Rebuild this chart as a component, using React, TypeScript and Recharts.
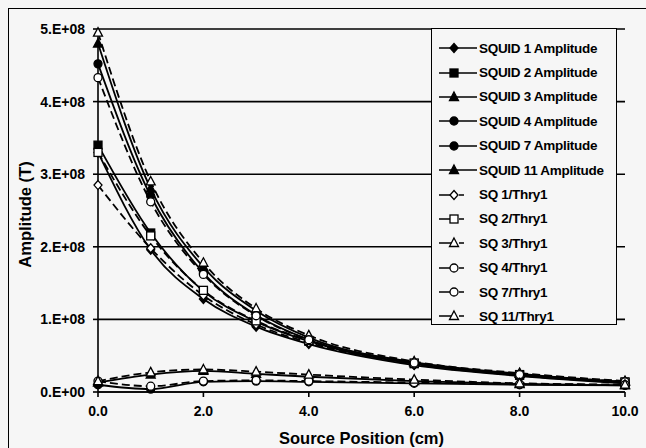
import React from "react";
import {
  LineChart, Line, XAxis, YAxis, CartesianGrid,
} from "recharts";

// source positions (cm)
const positions = [0, 1, 2, 3, 4, 6, 8, 10];

// measured amplitudes, units of 1e8 T
const squid1 = [3.3, 1.96, 1.28, 0.9, 0.66, 0.37, 0.22, 0.12];
const squid2 = [3.4, 2.19, 1.39, 0.97, 0.7, 0.39, 0.23, 0.13];
const squid3 = [4.8, 2.8, 1.72, 1.12, 0.75, 0.41, 0.25, 0.14];
const squid4 = [4.52, 2.7, 1.64, 1.06, 0.72, 0.39, 0.24, 0.13];
const squid7 = [0.1, 0.04, 0.14, 0.15, 0.14, 0.12, 0.1, 0.09];
const squid11 = [0.13, 0.24, 0.29, 0.25, 0.21, 0.15, 0.11, 0.09];

// theory curves, units of 1e8 T
const thry1 = [2.85, 1.98, 1.33, 0.93, 0.68, 0.38, 0.23, 0.13];
const thry2 = [3.3, 2.15, 1.4, 0.98, 0.71, 0.4, 0.24, 0.14];
const thry3 = [4.95, 2.9, 1.78, 1.15, 0.78, 0.42, 0.26, 0.15];
const thry4 = [4.33, 2.62, 1.62, 1.05, 0.72, 0.4, 0.24, 0.14];
const thry7 = [0.15, 0.08, 0.15, 0.16, 0.15, 0.13, 0.11, 0.1];
const thry11 = [0.15, 0.27, 0.31, 0.28, 0.24, 0.17, 0.12, 0.1];

const xTicks = [0, 2, 4, 6, 8, 10];
const yTicks = [0, 1e8, 2e8, 3e8, 4e8, 5e8];

type Shape = "diamond" | "square" | "triangle" | "circle";
type Series = { key: string; name: string; vals: number[]; shape: Shape; filled: boolean; dashed: boolean };

const series: Series[] = [
  { key: "s1", name: "SQUID 1 Amplitude", vals: squid1, shape: "diamond", filled: true, dashed: false },
  { key: "s2", name: "SQUID 2 Amplitude", vals: squid2, shape: "square", filled: true, dashed: false },
  { key: "s3", name: "SQUID 3 Amplitude", vals: squid3, shape: "triangle", filled: true, dashed: false },
  { key: "s4", name: "SQUID 4 Amplitude", vals: squid4, shape: "circle", filled: true, dashed: false },
  { key: "s7", name: "SQUID 7 Amplitude", vals: squid7, shape: "circle", filled: true, dashed: false },
  { key: "s11", name: "SQUID 11 Amplitude", vals: squid11, shape: "triangle", filled: true, dashed: false },
  { key: "t1", name: "SQ 1/Thry1", vals: thry1, shape: "diamond", filled: false, dashed: true },
  { key: "t2", name: "SQ 2/Thry1", vals: thry2, shape: "square", filled: false, dashed: true },
  { key: "t3", name: "SQ 3/Thry1", vals: thry3, shape: "triangle", filled: false, dashed: true },
  { key: "t4", name: "SQ 4/Thry1", vals: thry4, shape: "circle", filled: false, dashed: true },
  { key: "t7", name: "SQ 7/Thry1", vals: thry7, shape: "circle", filled: false, dashed: true },
  { key: "t11", name: "SQ 11/Thry1", vals: thry11, shape: "triangle", filled: false, dashed: true },
];

const data = positions.map((x, i) => {
  const row: Record<string, number> = { x };
  series.forEach((s) => (row[s.key] = s.vals[i] * 1e8));
  return row;
});

const BG = "#f6f6f6";
const FONT = "'Liberation Sans', Arial, sans-serif";

function marker(shape: Shape, filled: boolean, cx: number, cy: number, key?: any) {
  const fill = filled ? "#000" : "#fff";
  const common = { fill, stroke: "#000", strokeWidth: 1.3 };
  if (shape === "diamond")
    return <polygon key={key} points={`${cx},${cy - 4.5} ${cx + 4},${cy} ${cx},${cy + 4.5} ${cx - 4},${cy}`} {...common} />;
  if (shape === "square")
    return <rect key={key} x={cx - 4} y={cy - 4} width={8} height={8} {...common} />;
  if (shape === "triangle")
    return <polygon key={key} points={`${cx},${cy - 5} ${cx + 4.5},${cy + 3.5} ${cx - 4.5},${cy + 3.5}`} {...common} />;
  return <circle key={key} cx={cx} cy={cy} r={4} {...common} />;
}

const fmtY = (v: number) => (v === 0 ? "0.E+00" : `${Math.round(v / 1e8)}.E+08`);

function LegendBox() {
  return (
    <div
      style={{
        position: "absolute",
        left: 431,
        top: 28,
        width: 186,
        height: 297,
        border: "1.5px solid #000",
        background: BG,
        fontFamily: FONT,
        fontWeight: 700,
        fontSize: 13.5,
        paddingTop: 7,
        boxSizing: "border-box",
      }}
    >
      {series.map((s) => (
        <div key={s.key} style={{ display: "flex", alignItems: "center", height: 24.4, whiteSpace: "nowrap" }}>
          <svg width={46} height={14} style={{ marginLeft: 5 }}>
            <line
              x1={2} y1={7} x2={40} y2={7}
              stroke="#000" strokeWidth={1.6}
              strokeDasharray={s.dashed ? "14 6 5 20" : undefined}
            />
            {marker(s.shape, s.filled, 17, 7)}
          </svg>
          <span style={{ marginLeft: -4, letterSpacing: -0.3 }}>{s.name}</span>
        </div>
      ))}
    </div>
  );
}

export default function App() {
  return (
    <div style={{ position: "fixed", left: 0, top: 0, width: 646, height: 448, background: BG, overflow: "hidden" }}>
      {/* outer frame */}
      <div style={{ position: "absolute", left: 8, top: 8, width: 700, height: 500, borderLeft: "1.5px solid #000", borderTop: "1.5px solid #000" }} />
      <div style={{ position: "absolute", left: 0, top: 0 }}>
        <LineChart
          width={646}
          height={448}
          data={data}
          margin={{ left: 38, right: 21, top: 29, bottom: 20 }}
        >
          <CartesianGrid vertical={false} stroke="#000" strokeWidth={1.6} strokeOpacity={1} />
          <XAxis
            dataKey="x"
            type="number"
            domain={[0, 10]}
            ticks={xTicks}
            tickFormatter={(v) => Number(v).toFixed(1)}
            stroke="#000"
            strokeWidth={1.6}
            tickSize={5}
            tickMargin={9}
            height={36}
            tick={{ fill: "#000", fontSize: 14, fontWeight: 700, fontFamily: FONT }}
            label={{
              content: ({ viewBox }: any) => (
                <text
                  x={viewBox.x + viewBox.width / 2}
                  y={viewBox.y + 52}
                  textAnchor="middle"
                  fontFamily={FONT}
                  fontWeight={700}
                  fontSize={16.5}
                  fill="#000"
                >
                  Source Position (cm)
                </text>
              ),
            }}
          />
          <YAxis
            type="number"
            domain={[0, 5e8]}
            ticks={yTicks}
            tickFormatter={fmtY}
            stroke="#000"
            strokeWidth={1.6}
            tickSize={5}
            tickMargin={8}
            width={60}
            interval={0}
            tick={{ fill: "#000", fontSize: 14, fontWeight: 700, fontFamily: FONT }}
            label={{
              content: ({ viewBox }: any) => {
                const cx = viewBox.x - 13;
                const cy = viewBox.y + viewBox.height / 2 + 4;
                return (
                  <text
                    x={cx}
                    y={cy}
                    transform={`rotate(-90 ${cx} ${cy})`}
                    textAnchor="middle"
                    dominantBaseline="central"
                    fontFamily={FONT}
                    fontWeight={700}
                    fontSize={16.5}
                    fill="#000"
                  >
                    Amplitude (T)
                  </text>
                );
              },
            }}
          />
          <YAxis yAxisId="edge" orientation="right" width={0} tick={false} stroke="#000" strokeWidth={1.6} />
          {series.map((s) => (
            <Line
              key={s.key}
              dataKey={s.key}
              name={s.name}
              type="monotone"
              stroke="#000"
              strokeWidth={1.8}
              strokeDasharray={s.dashed ? "8 4" : undefined}
              isAnimationActive={false}
              dot={(p: any) => marker(s.shape, s.filled, p.cx, p.cy, `${s.key}-${p.index}`)}
              activeDot={false}
            />
          ))}
        </LineChart>
      </div>
      <LegendBox />
    </div>
  );
}
